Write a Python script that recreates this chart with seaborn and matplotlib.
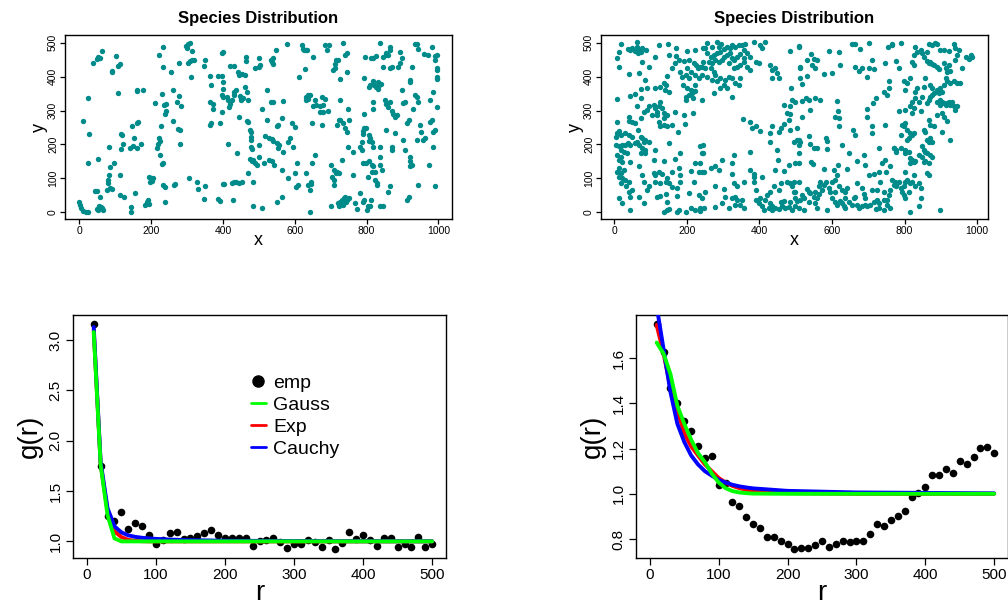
import matplotlib
matplotlib.use("Agg")
import matplotlib.pyplot as plt
from matplotlib.lines import Line2D
import numpy as np
import seaborn as sns

# ---- point pattern of species A (x, y) ----
species_a_xy = [
    (0,30),(2,20),(5,12),(10,3),(18,0),(25,0),
    (11,270),(23,336),(28,231),(25,146),(37,441),
    (48,452),(53,458),(58,455),(64,476),(90,414),(90,418),(102,461),(109,432),(112,436),(107,351),
    (83,192),(97,144),(85,132),(83,110),(81,95),(81,87),(76,66),(85,71),(90,68),(51,156),(58,46),(48,64),(44,62),
    (48,10),(55,19),(60,15),(67,8),(52,7),(62,12),
    (113,51),(125,46),(113,110),(116,230),(118,228),(116,186),(122,200),(143,15),(143,0),(155,56),(146,254),
    (153,218),(140,190),(150,195),(160,190),(160,264),(164,267),(160,357),(161,360),(178,361),(173,201),
    (183,22),(188,31),(192,36),(195,25),(195,105),(200,102),(205,100),(198,90),(203,92),
    (211,323),(215,190),(218,200),(222,220),(225,210),(225,169),(227,254),(232,429),(234,488),(223,465),
    (229,142),(234,145),(234,80),(239,75),(239,31),(238,290),(240,300),(236,315),(240,320),(231,349),
    (260,361),(254,415),(260,270),(265,80),(266,82),(273,326),(276,245),(280,244),(280,201),(278,441),(284,313),(278,343),
    (296,490),(302,495),(308,500),(300,485),(303,440),(308,445),(318,450),(313,448),(313,476),(310,398),(306,100),
    (327,90),(331,68),(348,39),(350,78),(350,449),(347,432),(364,402),(364,326),(372,320),(373,306),(368,375),(364,257),(368,264),
    (387,402),(396,471),(400,473),(396,402),(401,385),(401,365),(392,264),(396,346),(400,340),(410,340),(415,330),
    (396,297),(392,33),(387,40),(399,82),(402,84),
    (415,200),(420,320),(418,310),(425,330),(430,345),(430,355),(435,360),(420,432),(430,432),(438,174),
    (430,88),(437,88),(425,85),(445,85),(452,90),(427,36),
    (443,414),(452,407),(461,404),(445,404),(445,280),(447,343),(450,333),(456,338),(450,330),
    (464,447),(464,458),(461,370),(466,355),(470,330),(466,268),(470,265),(469,115),(475,243),(477,238),(478,223),(477,213),(478,193),
    (475,156),(480,150),(484,155),(489,146),(494,140),(480,188),(483,17),(485,90),(490,425),(499,430),(503,434),(499,454),
    (508,12),(499,198),(499,164),(513,144),(510,306),(522,361),(522,272),
    (518,225),(527,220),(536,215),(540,210),(550,205),(557,197),(552,190),(533,448),(536,443),(540,438),(540,326),(533,326),
    (536,150),(528,155),(542,140),(550,31),(540,454),(547,478),(551,255),(554,258),
    (568,329),(564,277),(568,179),(564,46),(564,125),(579,496),(582,208),(582,100),(587,218),(594,193),(601,252),(591,262),
    (601,115),(604,75),(608,80),(605,144),(613,398),
    (619,493),(622,483),(627,478),(631,480),(633,478),(629,424),(631,331),(636,335),(638,345),(632,340),(642,345),(652,458),
    (656,331),(652,313),(660,315),(670,313),(680,316),(647,262),(647,144),(642,66),(638,80),(646,88),(644,84),(642,0),(631,115),(656,169),
    (670,297),(680,297),(675,340),(684,335),(675,257),(684,493),(689,480),(693,300),(696,493),
    (700,140),(705,105),(709,125),(714,115),(718,120),(722,115),(709,95),(709,80),(700,17),
    (706,420),(711,425),(711,438),(715,448),(720,450),(717,257),(722,272),(726,331),(726,272),(735,262),(740,250),(745,238),(726,392),(731,154),
    (720,26),(726,31),(731,36),(736,41),(740,46),(722,17),(735,22),(743,31),(745,36),(750,41),
    (735,498),(740,463),(745,469),(745,415),(749,306),(749,193),(752,272),(762,179),(762,110),(767,27),(772,9),(782,56),(782,193),(787,184),(787,208),
    (789,230),(794,290),(789,240),(794,250),(799,250),(794,395),(796,459),(789,144),(799,144),(789,31),(794,36),(803,19),(800,7),
    (806,370),(810,375),(806,228),(810,220),(815,208),(819,193),(806,210),
    (808,150),(815,140),(819,135),(815,120),(824,120),(809,17),(813,36),(805,105),(813,454),(817,456),(827,461),
    (817,388),(822,374),(826,370),(831,365),(836,375),(831,385),(841,378),(817,306),(817,325),(824,95),(828,85),(828,80),
    (837,164),(837,193),(837,140),(842,125),(837,17),(845,19),(837,500),
    (846,458),(855,463),(860,465),(855,470),(846,429),(851,330),(855,320),(860,311),(865,326),(855,242),(860,61),(865,76),
    (865,478),(865,488),(865,425),(872,430),
    (870,300),(875,290),(880,282),(884,287),(872,184),(872,193),(880,235),(888,430),(893,440),(898,455),(893,474),(898,361),
    (902,321),(907,326),(902,213),(907,184),(912,36),(917,46),(912,262),(917,272),(922,385),(922,390),(922,164),(922,150),
    (922,135),(926,138),(926,429),(929,306),
    (935,496),(940,497),(935,345),(940,340),(944,326),(944,483),(940,213),(944,80),(948,257),(952,238),(957,213),(962,218),
    (960,468),(970,463),(977,331),(977,267),(982,272),(975,138),(982,488),(986,356),(986,238),(990,243),(986,193),(990,449),
    (995,465),(990,460),(990,76),(995,420),(997,425),(995,392),(997,400),(995,311),
]

# ---- point pattern of species B (x, y) ----
species_b_xy = [
    (17,495),(61,501),(38,482),(44,479),(49,484),(56,476),(62,489),(67,479),(72,474),(76,484),(65,469),(88,479),
    (122,493),(148,495),(171,486),(200,476),(223,479),(244,484),(7,454),(12,474),(14,430),(76,444),(95,430),(111,459),
    (150,464),(171,462),(159,425),(168,439),(179,449),(191,446),(205,449),(219,439),(225,434),(231,425),(237,430),(244,444),
    (200,425),(210,415),(196,405),(205,397),(223,405),(233,397),(242,405),(182,415),(187,400),(145,403),(41,407),(69,410),
    (85,391),(136,381),(127,371),(113,368),(142,376),(139,361),(150,356),(188,376),(200,366),(210,361),(214,351),(205,346),
    (196,341),(223,376),(221,358),(216,336),(196,331),(7,334),(44,344),(56,348),(72,363),(90,368),(72,336),(62,312),
    (81,297),(90,302),(95,312),(108,316),(113,307),(118,297),(122,312),(127,326),(118,287),(104,287),(131,307),(136,292),
    (145,287),(136,277),(122,267),(127,253),(136,258),(145,253),(159,258),(168,297),(191,287),(216,292),(176,238),(194,260),
    (41,282),(72,279),(40,269),(49,265),(58,262),(7,267),(14,240),(7,233),(3,223),(17,228),(30,233),(40,228),(49,223),
    (65,243),(72,223),(76,218),(81,208),(85,213),(95,208),(62,208),(56,203),(67,199),(3,199),(12,194),(21,199),(30,199),
    (38,203),(44,197),(17,184),(26,179),(35,174),(7,169),(17,164),(12,154),(21,149),(76,189),(85,184),(84,174),(72,174),
    (113,184),(150,203),(237,194),(242,174),(182,174),(44,147),(67,135),(108,154),(136,151),(168,157),(12,130),(7,120),
    (17,115),(26,125),(12,105),(21,100),(30,95),(40,90),(19,86),(32,76),(76,110),(81,90),(108,115),(113,110),(122,120),
    (131,112),(113,90),(159,120),(177,130),(182,110),(210,122),(223,145),(233,120),(242,120),(127,86),(141,90),(145,100),
    (150,86),(95,76),(90,66),(159,73),(173,71),(182,90),(219,88),(12,41),(21,27),(40,61),(44,46),(49,66),(67,46),(81,27),
    (118,46),(127,48),(141,53),(145,31),(173,49),(205,56),(233,51),(44,7),(136,2),(145,7),(150,10),(173,2),(177,7),
    (196,2),(210,12),(223,7),(237,4),(246,12),
    (251,484),(255,498),(269,489),(283,501),(288,489),(294,495),(301,482),(311,489),(318,484),(324,493),(333,489),(343,493),
    (352,493),(361,495),(356,479),(384,501),(402,493),(407,484),(416,501),(255,469),(265,459),(274,464),(283,469),(292,474),
    (301,459),(311,464),(320,469),(324,454),(329,449),(338,459),(347,466),(356,454),(366,469),(375,459),(260,444),(269,439),
    (278,449),(288,444),(297,449),(315,439),(329,425),(338,430),(347,434),(356,444),(366,430),(375,420),(389,444),(398,439),
    (242,430),(251,425),(265,425),(274,415),(278,405),(255,400),(269,391),(283,386),(292,395),(306,391),(315,400),(324,395),
    (333,381),(343,376),(347,395),(301,376),(292,366),(311,366),(324,341),(274,351),(430,434),(435,420),(444,425),(448,410),
    (435,395),(453,395),(488,368),(483,476),(508,491),(511,430),(242,331),(467,316),(485,312),(490,331),(499,326),(476,292),
    (485,289),(481,272),(467,260),(458,248),(453,238),(435,253),(430,233),(485,243),(355,275),(375,265),(379,248),(389,253),
    (401,240),(430,206),(504,213),(508,199),(494,206),(244,199),(244,174),(237,145),(248,120),(265,130),(278,135),(288,125),
    (297,154),(324,145),(329,169),(375,177),(448,184),(450,154),(508,174),(499,145),(481,138),(467,122),(444,125),(384,112),
    (407,105),(356,90),(324,112),(329,86),(338,76),(278,76),(301,69),(251,59),(242,41),(237,12),(278,14),(306,46),(324,41),
    (333,46),(338,36),(352,36),(333,22),(356,12),(347,22),(315,12),(297,27),(389,66),(389,36),(398,27),(402,41),(407,17),
    (416,36),(421,51),(430,27),(435,17),(430,61),(439,76),(453,66),(458,86),(476,90),(485,86),(494,90),(490,76),(412,7),
    (425,12),(435,7),(444,12),(453,10),(462,17),(471,12),(481,14),(490,7),(499,17),(504,33),(485,31),(467,33),(458,29),
    (494,61),(384,105),(375,125),(384,90),
    (510,489),(591,476),(618,472),(655,495),(663,495),(676,482),(703,498),(754,489),(766,493),(543,466),(531,449),(550,452),
    (559,449),(545,434),(554,425),(513,425),(513,397),(517,377),(531,403),(577,407),(600,410),(623,434),(664,430),(674,417),
    (683,425),(701,425),(715,422),(709,449),(697,400),(745,439),(756,386),(758,368),(743,356),(752,346),(720,336),(712,321),
    (517,328),(527,336),(536,331),(554,336),(568,331),(540,302),(517,282),(614,328),(617,299),(607,282),(618,277),(620,253),
    (697,305),(697,282),(709,253),(709,233),(745,258),(504,248),(508,213),(513,208),(536,226),(540,201),(550,191),(559,189),
    (582,218),(586,210),(586,187),(628,197),(657,243),(664,228),(646,174),(687,169),(729,189),(770,189),(775,179),(508,145),
    (543,149),(547,142),(577,128),(605,125),(617,138),(641,128),(669,151),(692,138),(701,110),(715,112),(729,118),(738,145),
    (747,154),(749,118),(761,135),(773,90),(508,90),(499,61),(517,51),(531,69),(536,61),(540,56),(550,46),(554,61),(563,76),
    (568,90),(573,66),(577,81),(582,90),(563,53),(559,41),(591,71),(595,61),(600,90),(609,95),(614,110),(618,76),(628,66),
    (637,61),(641,71),(669,86),(683,71),(687,53),(692,41),(710,66),(724,66),(733,90),(743,61),(756,51),(499,41),(513,36),
    (522,41),(536,31),(508,12),(522,7),(554,27),(559,12),(586,7),(600,41),(609,31),(614,22),(623,33),(628,27),(632,17),
    (637,12),(646,31),(655,22),(660,41),(669,22),(674,12),(683,17),(692,20),(697,17),(706,22),(715,31),(724,36),(729,27),
    (743,36),(752,22),(761,12),(743,7),(729,12),(664,46),(609,61),(637,41),(752,36),(720,10),
    (766,495),(790,498),(830,489),(835,474),(844,479),(825,464),(848,469),(853,459),(862,474),(867,495),(876,493),(885,498),
    (890,495),(899,479),(908,479),(922,476),(936,495),(940,486),(949,479),(945,464),(940,449),(968,459),(977,452),(982,464),
    (986,459),(775,446),(784,425),(821,444),(825,434),(862,446),(867,439),(871,444),(876,436),(880,434),(890,430),(894,423),
    (908,439),(913,425),(917,415),(926,417),(922,434),(959,427),(816,395),(798,386),(807,381),(802,361),(835,366),(830,356),
    (853,371),(857,395),(871,376),(876,366),(880,351),(890,361),(894,351),(899,366),(903,356),(908,376),(913,395),(917,386),
    (926,381),(936,386),(945,381),(954,381),(899,331),(903,326),(908,321),(913,316),(917,321),(922,326),(926,316),(931,326),
    (936,312),(940,302),(945,312),(899,316),(890,326),(862,321),(867,331),(871,341),(876,346),(848,341),(839,326),(830,336),
    (821,326),(816,312),(825,307),(821,292),(802,302),(784,299),(844,299),(890,287),(903,292),(908,282),(917,269),(867,272),
    (871,258),(880,253),(853,243),(857,238),(802,262),(798,253),(793,258),(807,243),(816,233),(821,228),(825,233),(812,218),
    (807,213),(789,228),(926,213),(862,213),(867,208),(876,208),(871,218),(903,238),(770,189),(775,184),(789,189),(802,184),
    (812,179),(802,174),(848,194),(853,184),(857,179),(862,174),(871,169),(876,164),(839,169),(848,164),(816,159),(821,154),
    (816,145),(825,149),(830,151),(853,149),(857,151),(867,145),(862,115),(867,110),(802,120),(825,110),(766,95),(770,81),
    (775,76),(779,86),(784,90),(789,71),(793,61),(798,76),(802,90),(807,95),(798,51),(802,41),(812,61),(816,86),(821,90),
    (830,76),(839,86),(844,71),(844,41),(839,17),(816,2),(899,7),(761,66),
]

# ---- pair correlation: empirical estimate and fitted models ----
r_emp = list(range(10, 510, 10))

g_emp_a = [3.159, 1.744, 1.255, 1.198, 1.288, 1.122, 1.182, 1.155, 1.063, 0.977,
           1.017, 1.083, 1.089, 1.023, 1.030, 1.050, 1.083, 1.109, 1.063, 1.030,
           1.030, 1.030, 1.030, 0.950, 1.003, 1.017, 1.030, 0.990, 0.937, 0.970,
           0.970, 1.010, 0.997, 0.944, 1.010, 0.924, 0.983, 1.089, 1.023, 1.063,
           1.010, 0.957, 1.036, 1.036, 0.944, 0.977, 0.944, 1.043, 0.944, 0.970]

g_emp_b = [1.752, 1.629, 1.467, 1.400, 1.320, 1.280, 1.212, 1.158, 1.168, 1.040,
           1.050, 0.963, 0.947, 0.897, 0.868, 0.847, 0.810, 0.810, 0.790, 0.776,
           0.756, 0.760, 0.760, 0.775, 0.791, 0.765, 0.778, 0.791, 0.788, 0.790,
           0.790, 0.822, 0.866, 0.856, 0.885, 0.900, 0.922, 0.986, 1.003, 1.030,
           1.084, 1.084, 1.109, 1.092, 1.143, 1.131, 1.162, 1.201, 1.205, 1.179]

r_fit_a = [10, 20, 30, 40, 50, 60, 70, 80, 90, 100, 120, 150, 200, 300, 400, 500]
gauss_a = [3.08, 1.76, 1.26, 1.03, 1.0, 1.0, 1.0, 1.0, 1.0, 1.0, 1.0, 1.0, 1.0, 1.0, 1.0, 1.0]
exp_a = [3.10, 1.77, 1.30, 1.10, 1.043, 1.015, 1.005, 1.002, 1.0, 1.0, 1.0, 1.0, 1.0, 1.0, 1.0, 1.0]
cauchy_a = [3.13, 1.79, 1.33, 1.15, 1.09, 1.06, 1.045, 1.036, 1.03, 1.025, 1.018, 1.012, 1.007, 1.003, 1.002, 1.001]

r_fit_b = [10, 20, 30, 40, 50, 60, 70, 80, 90, 100, 110, 120, 130, 140, 150, 200, 300, 400, 500]
gauss_b = [1.669, 1.62, 1.53, 1.39, 1.31, 1.24, 1.18, 1.14, 1.09, 1.05, 1.025, 1.012, 1.006, 1.003, 1.001, 1.0, 1.0, 1.0, 1.0]
exp_b = [1.747, 1.62, 1.47, 1.37, 1.268, 1.21, 1.17, 1.13, 1.10, 1.07, 1.05, 1.035, 1.025, 1.018, 1.013, 1.003, 1.0, 1.0, 1.0]
cauchy_b = [1.83, 1.64, 1.45, 1.31, 1.23, 1.17, 1.13, 1.10, 1.08, 1.062, 1.05, 1.04, 1.033, 1.028, 1.024, 1.013, 1.006, 1.004, 1.002]

TEAL = "#008b8b"
GREEN = "#00ff00"
RED = "#ff0000"
BLUE = "#0000ff"

sns.set_theme(style="ticks")
plt.rcParams["font.family"] = ["Liberation Sans", "DejaVu Sans"]
plt.rcParams.update({
    "axes.edgecolor": "black",
    "axes.linewidth": 1.0,
    "xtick.color": "black",
    "ytick.color": "black",
    "axes.labelcolor": "black",
    "text.color": "black",
    "axes.grid": False,
})

W, H = 1008, 608
fig = plt.figure(figsize=(W / 100, H / 100), dpi=100)


def box(left, top, right, bottom):
    return [left / W, 1 - bottom / H, (right - left) / W, (bottom - top) / H]


ax_a = fig.add_axes(box(65, 35, 452, 219))
ax_b = fig.add_axes(box(601, 35, 988, 219))
ax_ga = fig.add_axes(box(73, 315, 446, 558))
ax_gb = fig.add_axes(box(636, 315, 1008, 558))


def style_ticks(ax, size, length, pad):
    ax.tick_params(axis="both", direction="out", length=length, width=0.9,
                   labelsize=size, pad=pad)
    for lab in ax.get_yticklabels():
        lab.set_rotation(90)
        lab.set_va("center")


# top row: point patterns
for ax, pts, xlim in [(ax_a, species_a_xy, (-40, 1038)), (ax_b, species_b_xy, (-37, 1030))]:
    xs = [p[0] for p in pts]
    ys = [p[1] for p in pts]
    sns.scatterplot(x=xs, y=ys, ax=ax, color=TEAL, s=15, linewidth=0, legend=False)
    ax.set_xlim(*xlim)
    ax.set_ylim(-20, 523)
    ax.set_xticks(range(0, 1001, 200))
    ax.set_yticks(range(0, 501, 100))
    style_ticks(ax, 7.5, 3.5, 1.5)
    ax.set_title("Species Distribution", fontsize=12, fontweight="bold", pad=9)
    ax.set_xlabel("x", fontsize=13, labelpad=-3)
    ax.set_ylabel("y", fontsize=13, labelpad=0)

# bottom row: pair correlation functions
panels = [
    (ax_ga, g_emp_a, r_fit_a, gauss_a, exp_a, cauchy_a, (0.835, 3.249), [1.0, 1.5, 2.0, 2.5, 3.0]),
    (ax_gb, g_emp_b, r_fit_b, gauss_b, exp_b, cauchy_b, (0.716, 1.791), [0.8, 1.0, 1.2, 1.4, 1.6]),
]
for ax, g_emp, r_fit, g_gauss, g_exp, g_cauchy, ylim, yt in panels:
    sns.scatterplot(x=r_emp, y=g_emp, ax=ax, color="black", s=30, linewidth=0,
                    legend=False, zorder=2)
    sns.lineplot(x=r_fit, y=g_exp, ax=ax, color=RED, linewidth=2.8, sort=False,
                 estimator=None, zorder=3)
    sns.lineplot(x=r_fit, y=g_cauchy, ax=ax, color=BLUE, linewidth=2.8, sort=False,
                 estimator=None, zorder=4)
    sns.lineplot(x=r_fit, y=g_gauss, ax=ax, color=GREEN, linewidth=2.8, sort=False,
                 estimator=None, zorder=5)
    ax.set_xlim(-20, 520)
    ax.set_ylim(*ylim)
    ax.set_xticks(range(0, 501, 100))
    ax.set_yticks(yt)
    ax.set_yticklabels([f"{v:.1f}" for v in yt])
    style_ticks(ax, 11, 5, 2.5)
    ax.set_xlabel("r", fontsize=20, labelpad=-2)
    ax.set_ylabel("g(r)", fontsize=20, labelpad=4)

handles = [
    Line2D([], [], marker="o", color="black", linestyle="none", markersize=8),
    Line2D([], [], color=GREEN, linewidth=2),
    Line2D([], [], color=RED, linewidth=2),
    Line2D([], [], color=BLUE, linewidth=2),
]
ax_ga.legend(handles, ["emp", "Gauss", "Exp", "Cauchy"], loc="upper left",
             bbox_to_anchor=(0.45, 0.795), frameon=False, fontsize=14,
             handlelength=0.8, handletextpad=0.35, labelspacing=0.22, borderpad=0)

fig.savefig("out.png", dpi=100)
